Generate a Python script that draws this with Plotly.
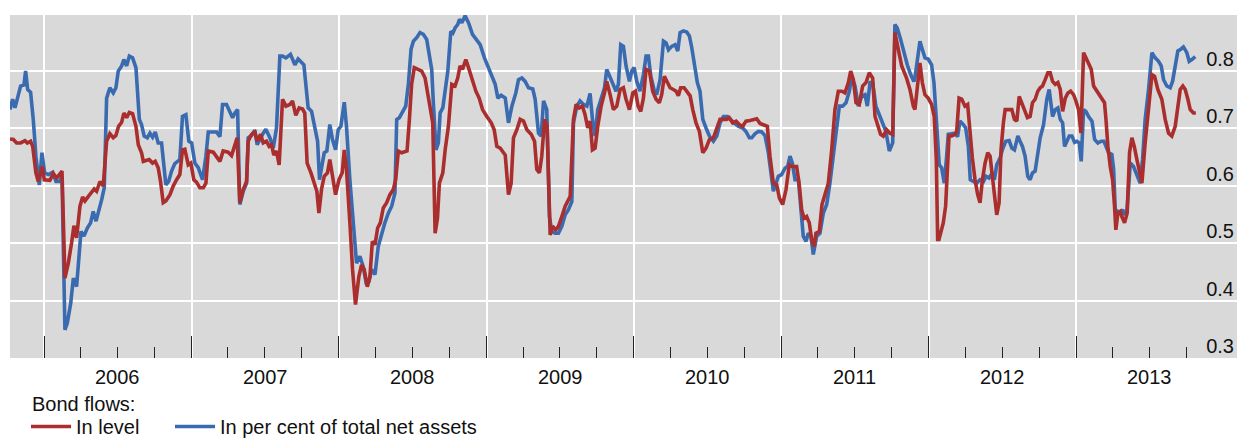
import pandas as pd
import plotly.graph_objects as go

# ---- data: decimal-year dates and values ----
t_pct = [
    2005.767, 2005.785, 2005.801, 2005.824, 2005.839, 2005.862, 2005.873, 2005.887, 2005.907, 2005.925,
    2005.943, 2005.966, 2005.984, 2006.002, 2006.027, 2006.057, 2006.079, 2006.102, 2006.12, 2006.14,
    2006.156, 2006.179, 2006.197, 2006.219, 2006.235, 2006.249, 2006.269, 2006.292, 2006.314, 2006.332,
    2006.351, 2006.373, 2006.389, 2006.407, 2006.423, 2006.445, 2006.468, 2006.486, 2006.502, 2006.525,
    2006.54, 2006.559, 2006.577, 2006.599, 2006.622, 2006.645, 2006.66, 2006.678, 2006.699, 2006.717,
    2006.735, 2006.753, 2006.773, 2006.796, 2006.825, 2006.844, 2006.864, 2006.886, 2006.92, 2006.938,
    2006.961, 2006.981, 2007.0, 2007.022, 2007.045, 2007.074, 2007.097, 2007.113, 2007.169, 2007.192,
    2007.21, 2007.237, 2007.26, 2007.278, 2007.294, 2007.312, 2007.327, 2007.35, 2007.373, 2007.384,
    2007.407, 2007.429, 2007.445, 2007.468, 2007.486, 2007.504, 2007.531, 2007.554, 2007.576, 2007.599,
    2007.617, 2007.64, 2007.671, 2007.701, 2007.723, 2007.762, 2007.78,
    2007.791, 2007.814, 2007.832, 2007.855, 2007.868, 2007.882, 2007.9, 2007.918, 2007.938, 2007.956,
    2007.977, 2007.995, 2008.013, 2008.036, 2008.051, 2008.074, 2008.097, 2008.119, 2008.142, 2008.164,
    2008.187, 2008.203, 2008.221, 2008.244, 2008.266, 2008.289, 2008.311, 2008.334, 2008.357, 2008.379,
    2008.391, 2008.409, 2008.429, 2008.452, 2008.47, 2008.488, 2008.504, 2008.526, 2008.549, 2008.571,
    2008.594, 2008.61, 2008.628, 2008.639, 2008.657, 2008.673, 2008.685, 2008.703, 2008.723, 2008.737,
    2008.757, 2008.771, 2008.786, 2008.804, 2008.816, 2008.832, 2008.854, 2008.877, 2008.904, 2008.933,
    2008.956, 2008.985, 2009.013, 2009.04, 2009.058, 2009.076, 2009.098, 2009.126, 2009.148, 2009.171,
    2009.198, 2009.216, 2009.239, 2009.261, 2009.284, 2009.313, 2009.329, 2009.352, 2009.37, 2009.386,
    2009.408, 2009.426, 2009.442, 2009.465, 2009.487, 2009.51, 2009.533, 2009.555, 2009.578, 2009.589,
    2009.612, 2009.634, 2009.657, 2009.68, 2009.702, 2009.718, 2009.736, 2009.754, 2009.777, 2009.8,
    2009.815, 2009.838,
    2009.86, 2009.878, 2009.894, 2009.91, 2009.928, 2009.946, 2009.969, 2009.985, 2010.001, 2010.019,
    2010.041, 2010.064, 2010.082, 2010.098, 2010.114, 2010.136, 2010.154, 2010.177, 2010.2, 2010.218,
    2010.234, 2010.256, 2010.279, 2010.297, 2010.313, 2010.335, 2010.358, 2010.376, 2010.392, 2010.414,
    2010.43, 2010.448, 2010.467, 2010.489, 2010.512, 2010.539, 2010.562, 2010.584, 2010.607, 2010.634,
    2010.652, 2010.679, 2010.708, 2010.738, 2010.76, 2010.783, 2010.799, 2010.821, 2010.844, 2010.867,
    2010.889, 2010.912, 2010.946, 2010.962, 2010.98, 2011.002, 2011.025, 2011.043, 2011.059, 2011.075,
    2011.093, 2011.116, 2011.131, 2011.149, 2011.168, 2011.183, 2011.201, 2011.217, 2011.24, 2011.262,
    2011.285, 2011.308, 2011.33, 2011.353, 2011.376, 2011.394, 2011.416, 2011.439, 2011.462, 2011.477,
    2011.5, 2011.523, 2011.545, 2011.568, 2011.584, 2011.602, 2011.62, 2011.642, 2011.665, 2011.688,
    2011.71, 2011.733, 2011.756, 2011.771, 2011.787, 2011.81, 2011.832, 2011.855, 2011.878, 2011.9,
    2011.907, 2011.941, 2011.957, 2011.975, 2011.997, 2012.02, 2012.036, 2012.047, 2012.061, 2012.072,
    2012.088, 2012.106, 2012.122, 2012.133, 2012.156, 2012.178, 2012.196, 2012.212, 2012.235, 2012.251,
    2012.269, 2012.282, 2012.303, 2012.325, 2012.348, 2012.371, 2012.389, 2012.409, 2012.432, 2012.445,
    2012.461, 2012.484, 2012.499, 2012.522, 2012.545, 2012.563, 2012.581, 2012.604, 2012.619, 2012.635,
    2012.653, 2012.671, 2012.687, 2012.703, 2012.721, 2012.739, 2012.755, 2012.778, 2012.8, 2012.816,
    2012.83, 2012.839, 2012.857, 2012.875, 2012.891, 2012.907, 2012.92, 2012.936, 2012.952, 2012.97,
    2012.988, 2013.004, 2013.02, 2013.033, 2013.049, 2013.065, 2013.083, 2013.106, 2013.124, 2013.146,
    2013.169, 2013.187, 2013.201, 2013.219, 2013.241, 2013.253, 2013.264, 2013.28, 2013.298, 2013.314,
    2013.327, 2013.343, 2013.366, 2013.388, 2013.411, 2013.433, 2013.449, 2013.467, 2013.49, 2013.513,
    2013.535, 2013.558, 2013.576, 2013.592, 2013.614, 2013.637, 2013.653, 2013.671, 2013.689, 2013.709,
    2013.727, 2013.75, 2013.766, 2013.784, 2013.807,
]
v_pct = [
    0.732, 0.75, 0.735, 0.758, 0.773, 0.775, 0.799, 0.767, 0.762, 0.715,
    0.651, 0.601, 0.657, 0.622, 0.619, 0.623, 0.607, 0.607, 0.616, 0.349,
    0.361, 0.395, 0.439, 0.424, 0.482, 0.52, 0.512, 0.526, 0.535, 0.555,
    0.538, 0.558, 0.575, 0.596, 0.752, 0.77, 0.761, 0.77, 0.799, 0.808,
    0.819, 0.808, 0.825, 0.822, 0.805, 0.715, 0.706, 0.686, 0.683, 0.691,
    0.684, 0.693, 0.674, 0.674, 0.601, 0.607, 0.625, 0.638, 0.645, 0.72,
    0.723, 0.677, 0.674, 0.639, 0.631, 0.61, 0.651, 0.693, 0.693, 0.685,
    0.741, 0.741, 0.729, 0.718, 0.726, 0.732, 0.567, 0.59, 0.604, 0.683,
    0.687, 0.696, 0.671, 0.683, 0.691, 0.698, 0.683, 0.665, 0.70, 0.825,
    0.825, 0.822, 0.828, 0.81, 0.82, 0.81, 0.767,
    0.735, 0.729, 0.706, 0.677, 0.61, 0.628, 0.657, 0.66, 0.706, 0.68,
    0.662, 0.697, 0.703, 0.745, 0.703, 0.61, 0.535, 0.465, 0.477, 0.459,
    0.427, 0.433, 0.454, 0.445, 0.494, 0.517, 0.535, 0.552, 0.564, 0.587,
    0.715, 0.718, 0.726, 0.738, 0.776, 0.837, 0.851, 0.857, 0.866, 0.863,
    0.854, 0.825, 0.802, 0.744, 0.662, 0.674, 0.726, 0.735, 0.779, 0.799,
    0.868, 0.865, 0.874, 0.88, 0.889, 0.883, 0.895, 0.883, 0.863, 0.854,
    0.845, 0.822, 0.805, 0.787, 0.776, 0.752, 0.757, 0.752, 0.709, 0.738,
    0.761, 0.784, 0.787, 0.781, 0.77, 0.768, 0.75, 0.691, 0.686, 0.747,
    0.732, 0.546, 0.52, 0.517, 0.517, 0.529, 0.549, 0.558, 0.572, 0.709,
    0.738, 0.747, 0.741, 0.738, 0.76, 0.715, 0.686, 0.732, 0.75, 0.77,
    0.802, 0.787,
    0.773, 0.764, 0.776, 0.845, 0.842, 0.808, 0.781, 0.799, 0.805, 0.781,
    0.764, 0.793, 0.825, 0.825, 0.79, 0.767, 0.758, 0.784, 0.851, 0.848,
    0.836, 0.842, 0.845, 0.834, 0.866, 0.869, 0.867, 0.86, 0.84, 0.808,
    0.779, 0.764, 0.715, 0.70, 0.686, 0.677, 0.686, 0.709, 0.72, 0.72,
    0.715, 0.709, 0.703, 0.70, 0.694, 0.683, 0.683, 0.69, 0.694, 0.693,
    0.687, 0.657, 0.59, 0.604, 0.616, 0.619, 0.63, 0.633, 0.651, 0.639,
    0.61, 0.61, 0.558, 0.512, 0.503, 0.517, 0.512, 0.48, 0.512, 0.517,
    0.552, 0.567, 0.604, 0.651, 0.703, 0.738, 0.738, 0.744, 0.764, 0.79,
    0.773, 0.738, 0.755, 0.758, 0.738, 0.779, 0.779, 0.738, 0.723, 0.706,
    0.694, 0.66, 0.674, 0.88, 0.874, 0.854, 0.831, 0.81, 0.793, 0.781,
    0.787, 0.851, 0.837, 0.822, 0.82, 0.81, 0.779, 0.732, 0.668, 0.636,
    0.631, 0.604, 0.651, 0.689, 0.69, 0.691, 0.685, 0.712, 0.706, 0.70,
    0.668, 0.61, 0.607, 0.604, 0.61, 0.607, 0.616, 0.613, 0.622, 0.61,
    0.636, 0.648, 0.662, 0.677, 0.678, 0.665, 0.662, 0.686, 0.677, 0.668,
    0.651, 0.616, 0.61, 0.622, 0.625, 0.651, 0.683, 0.706, 0.75, 0.767,
    0.744, 0.72, 0.732, 0.735, 0.715, 0.709, 0.668, 0.677, 0.686, 0.686,
    0.675, 0.677, 0.674, 0.642, 0.732, 0.729, 0.72, 0.712, 0.68, 0.674,
    0.677, 0.677, 0.668, 0.657, 0.654, 0.628, 0.558, 0.555, 0.552, 0.558,
    0.549, 0.555, 0.639, 0.633, 0.616, 0.604, 0.645, 0.715, 0.767, 0.831,
    0.822, 0.816, 0.808, 0.784, 0.773, 0.77, 0.781, 0.808, 0.834, 0.837,
    0.841, 0.831, 0.816, 0.819, 0.824,
]

t_level = [
    2005.767, 2005.79, 2005.812, 2005.839, 2005.869, 2005.885, 2005.907, 2005.921, 2005.943, 2005.959,
    2005.986, 2006.0, 2006.038, 2006.061, 2006.084, 2006.12, 2006.14, 2006.163, 2006.185, 2006.201,
    2006.219, 2006.242, 2006.26, 2006.276, 2006.299, 2006.321, 2006.339, 2006.355, 2006.378, 2006.4,
    2006.423, 2006.445, 2006.468, 2006.486, 2006.504, 2006.525, 2006.54, 2006.559, 2006.577, 2006.599,
    2006.622, 2006.638, 2006.66, 2006.672, 2006.712, 2006.735, 2006.753, 2006.773, 2006.789, 2006.807,
    2006.825, 2006.853, 2006.875, 2006.898, 2006.92, 2006.938, 2006.954, 2006.977, 2006.995, 2007.015,
    2007.033, 2007.056, 2007.079, 2007.097, 2007.113, 2007.147, 2007.169, 2007.192, 2007.214, 2007.248,
    2007.271, 2007.294, 2007.309, 2007.327, 2007.35, 2007.373, 2007.384, 2007.407, 2007.429, 2007.445,
    2007.468, 2007.486, 2007.508, 2007.526, 2007.542, 2007.558, 2007.576, 2007.594, 2007.617, 2007.64,
    2007.667, 2007.685, 2007.707, 2007.73, 2007.753, 2007.768, 2007.784,
    2007.81, 2007.832, 2007.85, 2007.864, 2007.882, 2007.9, 2007.922, 2007.938, 2007.959, 2007.977,
    2008.0, 2008.022, 2008.036, 2008.051, 2008.074, 2008.092, 2008.112, 2008.135, 2008.153, 2008.171,
    2008.192, 2008.21, 2008.226, 2008.244, 2008.262, 2008.28, 2008.3, 2008.323, 2008.345, 2008.368,
    2008.384, 2008.402, 2008.424, 2008.461, 2008.477, 2008.492, 2008.51, 2008.533, 2008.56, 2008.583,
    2008.601, 2008.617, 2008.635, 2008.651, 2008.667, 2008.68, 2008.703, 2008.719, 2008.741, 2008.764,
    2008.786, 2008.804, 2008.82, 2008.836, 2008.859, 2008.877, 2008.904, 2008.927, 2008.949, 2008.972,
    2009.001, 2009.031, 2009.051, 2009.069, 2009.092, 2009.126, 2009.148, 2009.166, 2009.182, 2009.205,
    2009.227, 2009.25, 2009.273, 2009.302, 2009.325, 2009.34, 2009.358, 2009.374, 2009.393, 2009.41,
    2009.431, 2009.447, 2009.469, 2009.487, 2009.51, 2009.533, 2009.567, 2009.589, 2009.607, 2009.628,
    2009.65, 2009.668, 2009.686, 2009.702, 2009.718, 2009.736, 2009.754, 2009.777, 2009.8, 2009.815,
    2009.838,
    2009.86, 2009.883, 2009.906, 2009.928, 2009.946, 2009.969, 2009.992, 2010.01, 2010.028, 2010.046,
    2010.064, 2010.082, 2010.105, 2010.127, 2010.15, 2010.172, 2010.188, 2010.206, 2010.222, 2010.245,
    2010.267, 2010.286, 2010.301, 2010.317, 2010.34, 2010.362, 2010.381, 2010.399, 2010.421, 2010.444,
    2010.467, 2010.489, 2010.512, 2010.539, 2010.562, 2010.584, 2010.607, 2010.629, 2010.647, 2010.67,
    2010.693, 2010.715, 2010.738, 2010.76, 2010.788, 2010.81, 2010.833, 2010.855, 2010.878, 2010.905,
    2010.923, 2010.946, 2010.969, 2010.987, 2011.009, 2011.032, 2011.054, 2011.077, 2011.104, 2011.122,
    2011.138, 2011.154, 2011.172, 2011.19, 2011.206, 2011.222, 2011.235, 2011.258, 2011.276, 2011.296,
    2011.319, 2011.342, 2011.364, 2011.387, 2011.41, 2011.432, 2011.455, 2011.471, 2011.489, 2011.507,
    2011.529, 2011.552, 2011.575, 2011.597, 2011.62, 2011.636, 2011.654, 2011.674, 2011.692, 2011.715,
    2011.737, 2011.756, 2011.771, 2011.794, 2011.817, 2011.85, 2011.873, 2011.896,
    2011.907, 2011.941, 2011.957, 2011.975, 2011.997, 2012.02, 2012.038, 2012.052, 2012.061, 2012.07,
    2012.083, 2012.099, 2012.115, 2012.129, 2012.138, 2012.156, 2012.178, 2012.19, 2012.206, 2012.224,
    2012.246, 2012.264, 2012.28, 2012.296, 2012.314, 2012.332, 2012.348, 2012.364, 2012.382, 2012.4,
    2012.416, 2012.432, 2012.445, 2012.461, 2012.477, 2012.49, 2012.506, 2012.518, 2012.54, 2012.563,
    2012.581, 2012.597, 2012.613, 2012.631, 2012.653, 2012.669, 2012.687, 2012.703, 2012.721, 2012.739,
    2012.755, 2012.771, 2012.789, 2012.807, 2012.823, 2012.839, 2012.857, 2012.875, 2012.891, 2012.907,
    2012.925, 2012.943, 2012.961, 2012.981, 2012.997, 2013.015, 2013.031, 2013.049, 2013.065, 2013.083,
    2013.101, 2013.117, 2013.133, 2013.151, 2013.173, 2013.191, 2013.201, 2013.214, 2013.23, 2013.246,
    2013.259, 2013.268, 2013.282, 2013.298, 2013.309, 2013.327, 2013.345, 2013.361, 2013.377, 2013.393,
    2013.411, 2013.429, 2013.445, 2013.467, 2013.49, 2013.513, 2013.531, 2013.553, 2013.58, 2013.603,
    2013.626, 2013.648, 2013.671, 2013.689, 2013.705, 2013.723, 2013.739, 2013.757, 2013.773, 2013.795,
    2013.811,
]
v_level = [
    0.681, 0.68, 0.674, 0.674, 0.678, 0.674, 0.677, 0.668, 0.622, 0.607,
    0.633, 0.61, 0.609, 0.621, 0.613, 0.625, 0.439, 0.465, 0.50, 0.53,
    0.509, 0.564, 0.58, 0.573, 0.581, 0.587, 0.594, 0.59, 0.607, 0.599,
    0.677, 0.69, 0.683, 0.687, 0.703, 0.71, 0.726, 0.718, 0.727, 0.725,
    0.703, 0.671, 0.657, 0.642, 0.645, 0.639, 0.642, 0.631, 0.607, 0.57,
    0.573, 0.584, 0.599, 0.61, 0.619, 0.662, 0.663, 0.636, 0.639, 0.61,
    0.606, 0.596, 0.596, 0.604, 0.66, 0.658, 0.651, 0.642, 0.66, 0.658,
    0.652, 0.671, 0.683, 0.57, 0.593, 0.607, 0.677, 0.689, 0.693, 0.677,
    0.689, 0.674, 0.677, 0.668, 0.671, 0.653, 0.66, 0.636, 0.75, 0.738,
    0.741, 0.747, 0.722, 0.735, 0.733, 0.726, 0.639,
    0.622, 0.604, 0.59, 0.552, 0.594, 0.616, 0.622, 0.645, 0.61, 0.584,
    0.61, 0.622, 0.662, 0.628, 0.535, 0.454, 0.393, 0.442, 0.462, 0.454,
    0.424, 0.442, 0.503, 0.497, 0.526, 0.535, 0.561, 0.57, 0.584, 0.593,
    0.61, 0.66, 0.657, 0.66, 0.715, 0.776, 0.805, 0.802, 0.799, 0.787,
    0.761, 0.732, 0.709, 0.517, 0.543, 0.604, 0.622, 0.662, 0.703, 0.776,
    0.773, 0.787, 0.808, 0.802, 0.819, 0.805, 0.781, 0.764, 0.752, 0.732,
    0.72, 0.709, 0.697, 0.668, 0.665, 0.653, 0.584, 0.604, 0.683, 0.697,
    0.715, 0.712, 0.697, 0.689, 0.677, 0.628, 0.622, 0.651, 0.715, 0.703,
    0.514, 0.529, 0.523, 0.529, 0.546, 0.564, 0.581, 0.715, 0.741, 0.735,
    0.738, 0.723, 0.70, 0.712, 0.662, 0.665, 0.703, 0.738, 0.761, 0.781,
    0.758,
    0.732, 0.738, 0.767, 0.77, 0.75, 0.732, 0.761, 0.764, 0.738, 0.729,
    0.752, 0.802, 0.799, 0.764, 0.75, 0.744, 0.758, 0.79, 0.781, 0.77,
    0.767, 0.764, 0.756, 0.77, 0.77, 0.762, 0.756, 0.732, 0.709, 0.694,
    0.657, 0.665, 0.68, 0.683, 0.70, 0.715, 0.715, 0.715, 0.718, 0.709,
    0.712, 0.706, 0.703, 0.712, 0.713, 0.715, 0.716, 0.708, 0.706, 0.703,
    0.651, 0.604, 0.601, 0.578, 0.567, 0.593, 0.636, 0.633, 0.633, 0.601,
    0.558, 0.543, 0.546, 0.535, 0.506, 0.494, 0.517, 0.52, 0.567, 0.584,
    0.604, 0.662, 0.732, 0.764, 0.764, 0.761, 0.779, 0.799, 0.784, 0.744,
    0.741, 0.773, 0.779, 0.796, 0.787, 0.72, 0.706, 0.689, 0.686, 0.697,
    0.691, 0.689, 0.866, 0.836, 0.808, 0.787, 0.767, 0.738,
    0.732, 0.813, 0.779, 0.758, 0.752, 0.741, 0.72, 0.645, 0.506, 0.506,
    0.517, 0.535, 0.564, 0.633, 0.686, 0.686, 0.689, 0.694, 0.752, 0.75,
    0.738, 0.741, 0.691, 0.648, 0.61, 0.584, 0.57, 0.61, 0.639, 0.657,
    0.651, 0.616, 0.575, 0.549, 0.57, 0.662, 0.709, 0.732, 0.732, 0.732,
    0.715, 0.712, 0.755, 0.744, 0.729, 0.718, 0.72, 0.744, 0.75, 0.764,
    0.77, 0.773, 0.784, 0.796, 0.796, 0.781, 0.776, 0.779, 0.767, 0.729,
    0.752, 0.761, 0.764, 0.758, 0.747, 0.732, 0.691, 0.831, 0.822, 0.81,
    0.802, 0.773, 0.767, 0.758, 0.75, 0.744, 0.715, 0.668, 0.633, 0.61,
    0.564, 0.523, 0.552, 0.555, 0.546, 0.535, 0.552, 0.657, 0.683, 0.668,
    0.645, 0.625, 0.604, 0.674, 0.738, 0.793, 0.79, 0.767, 0.75, 0.715,
    0.691, 0.686, 0.703, 0.744, 0.767, 0.773, 0.767, 0.75, 0.732, 0.726,
    0.726,
]

year_labels = ["2006", "2007", "2008", "2009", "2010", "2011", "2012", "2013"]
y_ticks = [0.3, 0.4, 0.5, 0.6, 0.7, 0.8]
series_names = ["In level", "In per cent of total net assets"]
legend_title = "Bond flows:"

RED = "#AB2E2E"
BLUE = "#3A6BB0"
FONT = "Liberation Sans, Arial, sans-serif"
W, H = 1237, 438
PLOT_L, PLOT_T, PLOT_H = 10, 15, 343
PLOT_W = W - PLOT_L


def to_date(t):
    y = int(t)
    start = pd.Timestamp(year=y, month=1, day=1)
    days = (pd.Timestamp(year=y + 1, month=1, day=1) - start).days
    return start + pd.Timedelta(days=(t - y) * days)


x_level = [to_date(t) for t in t_level]
x_pct = [to_date(t) for t in t_pct]

years = [int(y) for y in year_labels]
major_ticks = [pd.Timestamp(year=y, month=1, day=1) for y in years]
minor_ticks = [pd.Timestamp(year=y, month=m, day=1) for y in years for m in (4, 7, 10)]
label_pos = [pd.Timestamp(year=y, month=7, day=2) for y in years]
x_range = [pd.Timestamp("2005-10-08"), pd.Timestamp("2014-02-03")]

fig = go.Figure()
fig.add_trace(go.Scatter(
    x=x_pct, y=v_pct, mode="lines", name=series_names[1], legend="legend2",
    line=dict(color=BLUE, width=3.6), hoverinfo="skip",
))
fig.add_trace(go.Scatter(
    x=x_level, y=v_level, mode="lines", name=series_names[0], legend="legend",
    line=dict(color=RED, width=3.6), hoverinfo="skip",
))

# year labels centred in each year period
for d, lab in zip(label_pos, year_labels):
    fig.add_annotation(
        x=d, y=-18.5 / PLOT_H, xref="x", yref="paper", text=lab, showarrow=False,
        xanchor="center", yanchor="middle", font=dict(size=20, color="#111111"),
    )

# legend heading
fig.add_annotation(
    x=(30 - PLOT_L) / PLOT_W, y=-(404 - PLOT_T - PLOT_H) / PLOT_H, xref="paper", yref="paper",
    text=legend_title, showarrow=False, xanchor="left", yanchor="middle",
    font=dict(size=20, color="#111111"),
)

legend_common = dict(
    orientation="h", xref="container", yref="container", xanchor="left", yanchor="top",
    font=dict(size=20, color="#111111"), itemwidth=40, bgcolor="rgba(0,0,0,0)",
    borderwidth=0, y=1 - 407 / H,
)

fig.update_layout(
    width=W, height=H,
    margin=dict(l=PLOT_L, r=0, t=PLOT_T, b=H - PLOT_T - PLOT_H, autoexpand=False),
    paper_bgcolor="white",
    plot_bgcolor="#D9D9D9",
    font=dict(family=FONT, size=20, color="#111111"),
    showlegend=True,
    legend=dict(x=26 / W, **legend_common),
    legend2=dict(x=170 / W, **legend_common),
    xaxis=dict(
        type="date", range=x_range, tickmode="array", tickvals=major_ticks,
        ticktext=[""] * len(major_ticks), ticks="inside", ticklen=22,
        tickwidth=1.2, tickcolor="#222222", showgrid=True, gridcolor="white", gridwidth=2,
        zeroline=False, showline=False, automargin=False,
        minor=dict(tickmode="array", tickvals=minor_ticks, ticks="inside", ticklen=11,
                   tickwidth=1.2, tickcolor="#222222", showgrid=False),
    ),
    yaxis=dict(
        range=[0.3, 0.3 + PLOT_H / 575], side="right", tickmode="array", tickvals=y_ticks,
        ticktext=[f"{v:.1f}" for v in y_ticks], ticks="", ticklabelposition="inside",
        ticklabelshift=-12, ticklabeloverflow="allow", automargin=False,
        showgrid=True, gridcolor="white", gridwidth=2, zeroline=False, showline=False,
        tickfont=dict(size=20, color="#111111"),
    ),
)

fig.write_html(
    "out.html",
    config={"displayModeBar": False},
    post_script="document.body.style.margin='0px';",
)
